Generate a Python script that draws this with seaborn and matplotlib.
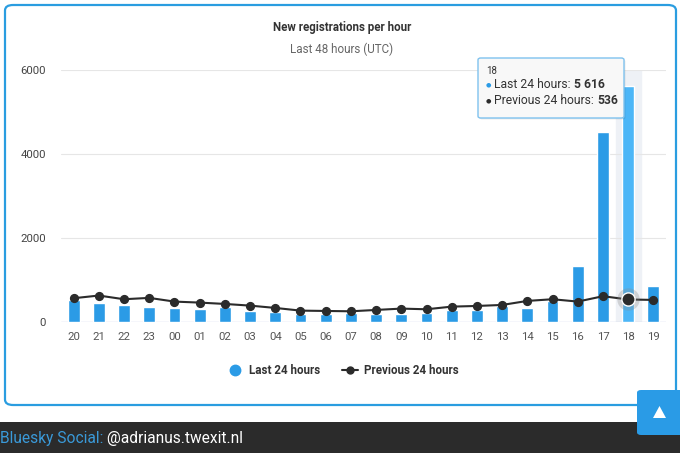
import matplotlib
matplotlib.use("Agg")
import matplotlib.pyplot as plt
import seaborn as sns
from matplotlib.lines import Line2D
from matplotlib.patches import FancyBboxPatch, Rectangle, Polygon
from matplotlib.text import Annotation

hours = ["20", "21", "22", "23", "00", "01", "02", "03", "04", "05", "06", "07",
         "08", "09", "10", "11", "12", "13", "14", "15", "16", "17", "18", "19"]
last_24 = [526, 446, 406, 351, 327, 311, 351, 263, 239, 191, 191, 223,
           191, 191, 215, 287, 287, 390, 327, 502, 1338, 4535, 5616, 868]
prev_24 = [566, 630, 542, 574, 486, 462, 430, 390, 335, 271, 263, 255,
           287, 319, 303, 366, 382, 406, 502, 542, 486, 614, 536, 526]
y_ticks = [0, 2000, 4000, 6000]
hover_hour = "18"

BLUE = "#2b9be6"
BLUE_HOVER = "#4cb6f7"
DARK = "#2b2b2b"

W, H = 680, 455


def px(x, y):
    # pixel position (from top-left) -> figure fraction
    return x / W, 1 - y / H


def after(artist, text, **kw):
    # put text right after another text artist (figure level)
    a = Annotation(text, xy=(1, 0.5), xycoords=artist, va="center", annotation_clip=False, **kw)
    fig.add_artist(a)
    return a


sns.set_theme(style="white")
plt.rcParams["font.family"] = ["Roboto", "DejaVu Sans"]

fig = plt.figure(figsize=(6.8, 4.55), dpi=100)

# card border
card = FancyBboxPatch(px(5, 405), 671 / W, 400 / H, boxstyle="round,pad=0,rounding_size=0.012",
                      transform=fig.transFigure, facecolor="white", edgecolor="#2a9de0",
                      linewidth=1.6, zorder=-2)
fig.patches.append(card)

ax = fig.add_axes([61 / W, (H - 322) / H, 605 / W, 252 / H])
ax.set_facecolor("none")

hi = hours.index(hover_hour)
ax.axvspan(hi - 0.5, hi + 0.5, color="#eef1f6", zorder=0)

palette = {h: (BLUE_HOVER if h == hover_hour else BLUE) for h in hours}
sns.barplot(x=hours, y=last_24, hue=hours, palette=palette, order=hours,
            width=0.47, saturation=1, legend=False, ax=ax, zorder=2)
sns.pointplot(x=hours, y=prev_24, order=hours, color=DARK, markers="o",
              linestyles="-", markersize=5.5, linewidth=1.5, ax=ax, zorder=3)

# hovered point
ax.scatter([hi], [prev_24[hi]], s=260, color="#888888", alpha=0.3, linewidths=0, zorder=4)
ax.scatter([hi], [prev_24[hi]], s=90, color=DARK, edgecolors="white", linewidths=1.0, zorder=5)

ax.set_xlim(-0.5, len(hours) - 0.5)
ax.set_ylim(0, 6000)
ax.set_yticks(y_ticks)
ax.set_yticklabels([str(v) for v in y_ticks])
for v in y_ticks[1:]:
    ax.axhline(v, color="#e6e6e6", linewidth=0.8, zorder=1)
ax.axhline(0, color="#ccd6eb", linewidth=1.0, zorder=1)
for s in ax.spines.values():
    s.set_visible(False)
ax.tick_params(axis="y", length=0, pad=11, labelsize=8.2, labelcolor="#444444")
ax.tick_params(axis="x", length=0, pad=7, labelsize=8.2, labelcolor="#555555")
ax.set_xlabel("")
ax.set_ylabel("")

fig.text(*px(342, 27), "New registrations per hour", ha="center", va="center",
         fontsize=8.3, fontweight="bold", color="#333333")
fig.text(*px(342, 49), "Last 48 hours (UTC)", ha="center", va="center",
         fontsize=8.4, color="#666666")

# legend
handles = [
    Line2D([], [], marker="o", linestyle="none", color=BLUE, markersize=7.5),
    Line2D([], [], marker="o", linestyle="-", color=DARK, markersize=5, linewidth=1.5),
]
leg = fig.legend(handles, ["Last 24 hours", "Previous 24 hours"], loc="center",
                 bbox_to_anchor=px(343, 371), ncol=2, frameon=False, fontsize=8.4,
                 handlelength=1.4, handletextpad=0.5, columnspacing=1.8)
for t in leg.get_texts():
    t.set_fontweight("bold")
    t.set_color("#333333")

# tooltip
fig.patches.append(FancyBboxPatch(px(479.5, 119.5), 146 / W, 60 / H,
                                  boxstyle="round,pad=0,rounding_size=0.004",
                                  transform=fig.transFigure, facecolor="#000000",
                                  edgecolor="none", alpha=0.08, zorder=9))
tip = FancyBboxPatch(px(478, 118), 146 / W, 60 / H, boxstyle="round,pad=0,rounding_size=0.004",
                     transform=fig.transFigure, facecolor="#f8f8f8", edgecolor="#7fc2ee",
                     linewidth=1.0, zorder=10)
fig.patches.append(tip)
fig.text(*px(486, 71.5), hover_hour, fontsize=7, color="#333333", va="center", zorder=11)
rows = [("Last 24 hours", last_24[hi], BLUE, 85), ("Previous 24 hours", prev_24[hi], DARK, 100.5)]
for name, val, col, yy in rows:
    fig.text(*px(485.5, yy), "●", fontsize=4.5, color=col, va="center", zorder=11,
             family="DejaVu Sans")
    t = fig.text(*px(494.5, yy), f"{name}: ", fontsize=8.7, color="#333333", va="center",
                 zorder=11)
    after(t, f"{val:,}".replace(",", " "), fontsize=8.7, fontweight="bold",
          color="#333333", zorder=11)

# footer
fig.patches.append(Rectangle(px(0, 453), 1, 31 / H, transform=fig.transFigure,
                             facecolor="#2b2b2b", edgecolor="none", zorder=-1))
fb = fig.text(*px(0, 438), "Bluesky Social:", fontsize=11.2, color="#3a9ad9", va="center")
after(fb, " @adrianus.twexit.nl", fontsize=11.2, color="white", zorder=3)

# back-to-top button
fig.patches.append(FancyBboxPatch(px(637, 435), 50 / W, 45 / H,
                                  boxstyle="round,pad=0,rounding_size=0.006",
                                  transform=fig.transFigure, facecolor="#2a9be6",
                                  edgecolor="none", zorder=2))
fig.patches.append(Polygon([px(653, 418), px(666, 418), px(659.5, 406)], closed=True,
                           transform=fig.transFigure, facecolor="white", edgecolor="none",
                           zorder=3))

fig.savefig("out.png", dpi=100)
